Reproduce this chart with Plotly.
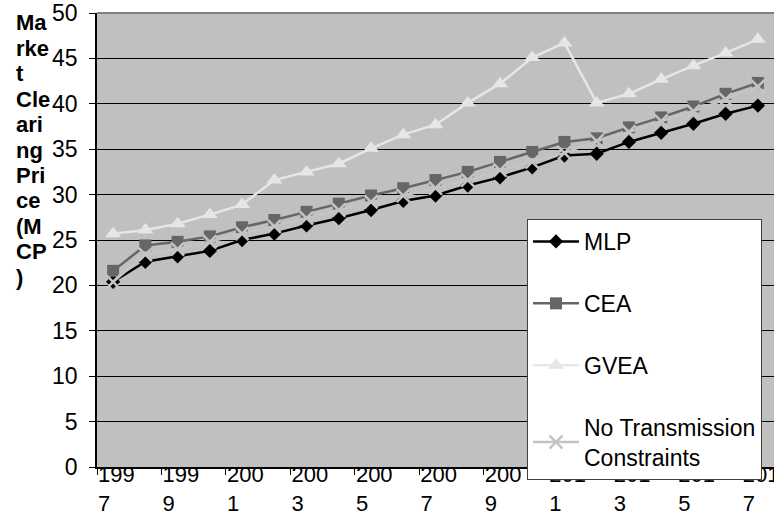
import plotly.graph_objects as go

years = list(range(1997, 2018))
mlp = [20.4, 22.6, 23.2, 23.8, 25.0, 25.7, 26.6, 27.4, 28.3, 29.3, 29.9,
       31.0, 31.9, 33.0, 34.3, 34.5, 35.8, 36.8, 37.8, 38.9, 39.8]
cea = [21.6, 24.4, 24.8, 25.4, 26.4, 27.2, 28.1, 29.0, 29.9, 30.7, 31.6,
       32.5, 33.6, 34.7, 35.8, 36.2, 37.4, 38.5, 39.7, 41.1, 42.3]
gvea = [25.7, 26.1, 26.8, 27.8, 28.9, 31.6, 32.5, 33.4, 35.1, 36.6, 37.7,
        40.1, 42.2, 45.1, 46.7, 40.1, 41.1, 42.7, 44.2, 45.6, 47.1]
no_trans = [20.4, 23.4, 24.0, 24.8, 25.7, 26.5, 27.4, 28.3, 29.2, 29.9, 30.7,
            31.6, 32.7, 33.6, 34.6, 35.9, 36.9, 38.1, 39.2, 40.5, 41.9]

label_years = years[::2]
tick_text = [f"{y // 10}<br>{y % 10}" + "\u00a0" * 4 for y in label_years]
y_title_lines = ["Ma", "rke", "t", "Cle", "ari", "ng", "Pri", "ce", "(M", "CP", ")"]

FONT = "Liberation Sans, Arial, sans-serif"

fig = go.Figure()
fig.add_trace(go.Scatter(x=years, y=mlp, name="MLP", mode="lines+markers",
                         line=dict(color="#000000", width=2.5),
                         marker=dict(symbol="diamond", size=11, color="#000000"),
                         legendgroup="a"))
fig.add_trace(go.Scatter(x=years, y=cea, name="CEA", mode="lines+markers",
                         line=dict(color="#666666", width=2.5),
                         marker=dict(symbol="square", size=12, color="#666666"),
                         legendgroup="b"))
fig.add_trace(go.Scatter(x=years, y=gvea, name="GVEA", mode="lines+markers",
                         line=dict(color="#e6e6e6", width=2.5),
                         marker=dict(symbol="triangle-up", size=14, color="#e6e6e6"),
                         legendgroup="c"))
fig.add_trace(go.Scatter(x=years, y=no_trans, name="No Transmission<br>Constraints",
                         mode="lines+markers",
                         line=dict(color="#c4c4c4", width=2.5),
                         marker=dict(symbol="x-thin", size=13, color="#c4c4c4",
                                     line=dict(color="#c4c4c4", width=2.5)),
                         legendgroup="d"))

annotations = []
for i, t in enumerate(y_title_lines):
    py = 23 + i * 25.4
    annotations.append(dict(text=f"<b>{t}</b>", xref="paper", yref="paper",
                            x=(14 - 97) / 677, y=(467 - py) / 454,
                            xanchor="left", yanchor="middle", showarrow=False,
                            font=dict(family=FONT, size=22, color="#000000")))

fig.update_layout(
    width=774, height=512,
    margin=dict(l=97, r=0, t=13, b=45, autoexpand=False),
    paper_bgcolor="#ffffff", plot_bgcolor="#c0c0c0",
    font=dict(family=FONT, size=23, color="#000000"),
    showlegend=True,
    legend=dict(x=(527 - 97) / 677, y=(467 - 219) / 454, xanchor="left", yanchor="top",
                bgcolor="#ffffff", bordercolor="#404040", borderwidth=1,
                font=dict(family=FONT, size=23, color="#000000"),
                traceorder="grouped", tracegroupgap=29, itemwidth=46),
    annotations=annotations,
    shapes=[dict(type="line", xref="paper", yref="paper", x0=0, x1=1, y0=1, y1=1,
                 line=dict(color="#808080", width=2))],
    xaxis=dict(range=[1996.5, 2017.5], tickmode="array",
               tickvals=[y + 0.1 for y in label_years], ticktext=tick_text,
               ticks="outside", ticklen=0, tickcolor="#000000",
               ticklabelstandoff=-13, ticklabeloverflow="allow",
               showgrid=False, zeroline=False,
               showline=True, linecolor="#000000", linewidth=1.5,
               tickfont=dict(family=FONT, size=22, color="#000000"),
               minor=dict(tickmode="array", tickvals=[y - 0.5 for y in label_years],
                          ticks="outside", ticklen=6, tickwidth=1,
                          tickcolor="#000000", showgrid=False)),
    yaxis=dict(range=[0, 50], dtick=5, tick0=0, showgrid=True, gridcolor="#000000",
               gridwidth=1, zeroline=False, showline=True, linecolor="#000000",
               linewidth=1.5, ticks="outside", ticklen=6, tickcolor="#000000",
               ticklabelstandoff=7,
               tickfont=dict(family=FONT, size=23, color="#000000")),
)

fig.write_html("out.html")
